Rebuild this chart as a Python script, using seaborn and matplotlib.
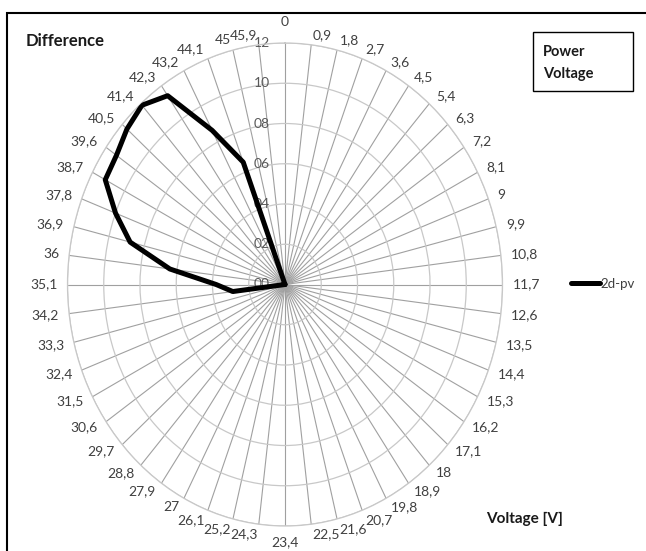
import numpy as np
import pandas as pd
import seaborn as sns
import matplotlib.pyplot as plt
from matplotlib.patches import Rectangle
from matplotlib.transforms import ScaledTranslation

# voltage categories around the circle (clockwise from top)
voltage_labels = ['0', '0,9', '1,8', '2,7', '3,6', '4,5', '5,4', '6,3', '7,2', '8,1',
                  '9', '9,9', '10,8', '11,7', '12,6', '13,5', '14,4', '15,3', '16,2', '17,1',
                  '18', '18,9', '19,8', '20,7', '21,6', '22,5', '23,4', '24,3', '25,2', '26,1',
                  '27', '27,9', '28,8', '29,7', '30,6', '31,5', '32,4', '33,3', '34,2', '35,1',
                  '36', '36,9', '37,8', '38,7', '39,6', '40,5', '41,4', '42,3', '43,2', '44,1',
                  '45', '45,9']

# 2d-pv difference
diff_values = [0, 0, 0, 0, 0, 0, 0, 0, 0, 0,
               0, 0, 0, 0, 0, 0, 0, 0, 0, 0,
               0, 0, 0, 0, 0, 0, 0, 0, 0, 0,
               0, 0, 0, 0, 0, 0, 0, 0, 0.29, 0.38,
               0.64, 0.88, 1.00, 1.12, 1.13, 1.165, 1.19, 1.14, 0.865, 0.65,
               0, 0]

radial_ticks = [0, 0.2, 0.4, 0.6, 0.8, 1.0, 1.2]
radial_labels = ['00', '02', '04', '06', '08', '10', '12']

sns.set_style('white')
plt.rcParams['font.family'] = ['Lato', 'DejaVu Sans']

W, H = 646, 551
fig = plt.figure(figsize=(W / 100, H / 100), dpi=100)
ax = fig.add_axes([67.5 / W, 25 / H, 435 / W, 483 / H], projection='polar')
ax.set_theta_zero_location('N')
ax.set_theta_direction(-1)

n = len(voltage_labels)
theta = np.arange(n) * 2 * np.pi / n
df = pd.DataFrame({
    'theta': np.append(theta, 2 * np.pi),
    'value': diff_values + diff_values[:1],
})

sns.lineplot(data=df, x='theta', y='value', sort=False, estimator=None,
             color='black', lw=3.6, ax=ax, label='2d-pv', zorder=5)
line = ax.get_lines()[0]
line.set_solid_joinstyle('round')
line.set_solid_capstyle('round')

ax.set_aspect('auto')
ax.set_ylim(0, 1.2)
ax.set_xticks(theta)
ax.set_xticklabels([])
ax.set_yticks(radial_ticks)
ax.set_yticklabels([])
ax.set_xlabel('')
ax.set_ylabel('')
ax.xaxis.grid(True, color='#a0a0a0', lw=0.8)
ax.yaxis.grid(True, color='#c8c8c8', lw=0.9)
ax.spines['polar'].set_color('#c8c8c8')
ax.spines['polar'].set_linewidth(0.9)

# category labels around the circle
for t, lab in zip(theta, voltage_labels):
    s, c = np.sin(t), np.cos(t)
    if abs(s) < 1e-6:
        g, ha, va = (15, 'center', 'bottom') if c > 0 else (10, 'center', 'top')
    else:
        g, ha, va = 10, ('left' if s > 0 else 'right'), 'center'
    off = ScaledTranslation(g * s / 100, g * c / 100, fig.dpi_scale_trans)
    ax.text(t, 1.2, lab, transform=ax.transData + off, ha=ha, va=va,
            fontsize=10, color='#404040', clip_on=False)

# radial labels beside the top spoke
for r, lab in zip(radial_ticks, radial_labels):
    off = ScaledTranslation(-0.15, 0, fig.dpi_scale_trans)
    ax.text(0, r, lab, transform=ax.transData + off, ha='right', va='center',
            fontsize=10, color='#595959', zorder=2)

ax.legend(loc='center left', bbox_to_anchor=(571 / W, 1 - 284 / H),
          bbox_transform=fig.transFigure, frameon=False, handlelength=2.2,
          handletextpad=0.05, borderpad=0, borderaxespad=0, fontsize=9.5,
          labelcolor='#404040')

fig.text(26 / W, 1 - 41 / H, 'Difference', fontsize=12, fontweight='bold',
         color='#1a1a1a', va='center', ha='left')
fig.text(486 / W, 1 - 519 / H, 'Voltage [V]', fontsize=11, fontweight='bold',
         color='#1a1a1a', va='center', ha='left')

fig.add_artist(Rectangle((533 / W, 1 - 91 / H), 100 / W, 59 / H, fill=False,
                         edgecolor='black', lw=1.0, transform=fig.transFigure))
fig.text(543 / W, 1 - 52 / H, 'Power', fontsize=10.5, fontweight='bold',
         color='#1a1a1a', va='center', ha='left')
fig.text(543 / W, 1 - 74 / H, 'Voltage', fontsize=10.5, fontweight='bold',
         color='#1a1a1a', va='center', ha='left')

# chart frame (cropped)
fig.add_artist(Rectangle((7 / W, -0.1), 1.2, 0.1 + (H - 13) / H, fill=False,
                         edgecolor='black', lw=1.5, transform=fig.transFigure))

fig.savefig('out.png', dpi=100)
